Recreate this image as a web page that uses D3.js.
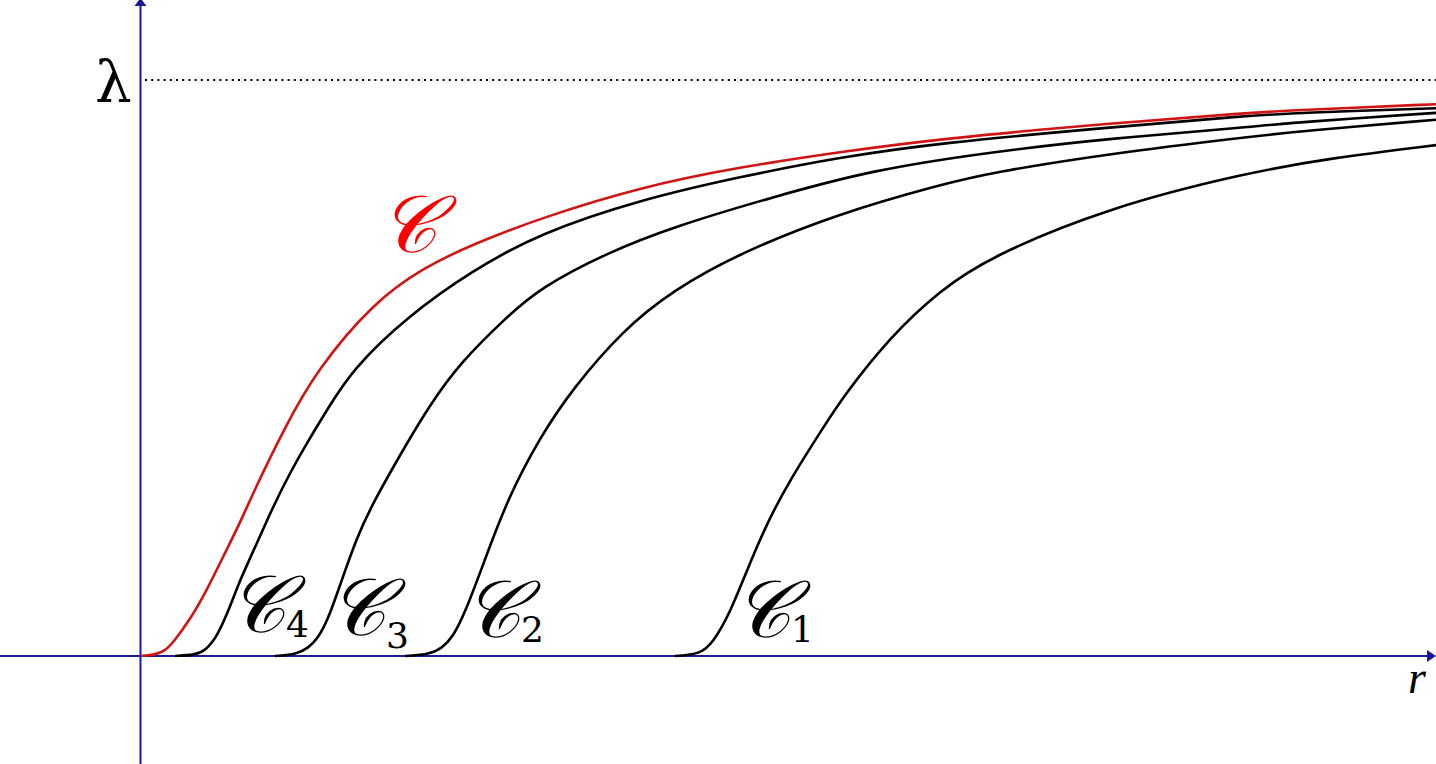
<!DOCTYPE html>
<html><head><meta charset="utf-8">
<script src="https://cdn.jsdelivr.net/npm/d3@7"></script>
<style>body{margin:0;background:#fff}svg{display:block}</style>
</head><body>
<svg id="chart" width="1436" height="764"></svg>
<script>
// r values (abscissa) and normalised values (lambda = 1) for each curve
const rRed = [0, 0.14, 0.24, 0.32, 0.49, 0.66, 0.82, 0.99, 1.12, 1.44, 1.76, 2.32, 2.82, 3.32, 3.99, 4.99, 5.99, 6.99, 7.99, 9.72, 11.06, 11.59, 12.95];
const vRed = [0, 0.002, 0.009, 0.023, 0.063, 0.115, 0.172, 0.231, 0.283, 0.398, 0.497, 0.613, 0.674, 0.715, 0.760, 0.814, 0.849, 0.875, 0.898, 0.925, 0.943, 0.948, 0.958];

const rC4 = [0.34, 0.54, 0.64, 0.76, 0.89, 0.99, 1.16, 1.32, 1.49, 1.66, 1.86, 2.11, 2.66, 3.32, 3.99, 4.99, 5.99, 6.99, 7.99, 9.72, 11.06, 11.59, 12.95];
const vC4 = [0, 0.002, 0.009, 0.033, 0.085, 0.132, 0.196, 0.259, 0.318, 0.370, 0.427, 0.497, 0.589, 0.670, 0.734, 0.792, 0.832, 0.866, 0.891, 0.918, 0.938, 0.943, 0.951];

const rC3 = [1.34, 1.56, 1.67, 1.76, 1.87, 1.99, 2.16, 2.32, 2.66, 2.89, 3.19, 3.66, 3.99, 4.66, 5.32, 6.32, 7.32, 8.49, 9.72, 11.06, 11.59, 12.95];
const vC3 = [0, 0.003, 0.014, 0.028, 0.063, 0.123, 0.207, 0.266, 0.370, 0.436, 0.509, 0.589, 0.639, 0.700, 0.745, 0.797, 0.844, 0.875, 0.899, 0.918, 0.927, 0.943];

const rC2 = [2.64, 2.89, 3.01, 3.12, 3.24, 3.42, 3.66, 3.99, 4.32, 4.82, 5.32, 5.99, 6.99, 7.99, 8.49, 9.72, 11.06, 11.59, 12.95];
const vC2 = [0, 0.003, 0.014, 0.033, 0.075, 0.158, 0.271, 0.380, 0.465, 0.566, 0.635, 0.700, 0.769, 0.818, 0.839, 0.873, 0.901, 0.911, 0.931];

const rC1 = [5.34, 5.59, 5.72, 5.89, 6.06, 6.26, 6.49, 6.82, 7.02, 7.49, 7.99, 8.49, 9.66, 11.06, 11.92, 12.95];
const vC1 = [0, 0.003, 0.023, 0.075, 0.149, 0.231, 0.306, 0.396, 0.450, 0.554, 0.635, 0.693, 0.778, 0.839, 0.865, 0.887];

const seriesNames = ["𝒞", "𝒞", "𝒞", "𝒞", "𝒞"];
const seriesSubs = ["", "4", "3", "2", "1"];
const lambdaLabel = "λ";
const axisLabel = "r";

const W = 1436, H = 764;
const svg = d3.select("#chart");

const x = d3.scaleLinear().domain([0, 12.95]).range([141, 1436]);
const y = d3.scaleLinear().domain([0, 1]).range([656, 80]);

const axisColor = "#1a1a9a";

// dotted asymptote at lambda
svg.append("line")
  .attr("x1", x(0) + 4).attr("x2", W)
  .attr("y1", y(1)).attr("y2", y(1))
  .attr("stroke", "#000").attr("stroke-width", 2)
  .attr("stroke-dasharray", "2,4.2");

// axes
svg.append("line").attr("x1", 0).attr("x2", W - 4)
  .attr("y1", y(0)).attr("y2", y(0))
  .attr("stroke", axisColor).attr("stroke-width", 2);
svg.append("line").attr("x1", x(0) - 0.5).attr("x2", x(0) - 0.5)
  .attr("y1", H).attr("y2", 4)
  .attr("stroke", axisColor).attr("stroke-width", 2);
// arrow heads
svg.append("path")
  .attr("d", `M${W},${y(0)} L${W - 9},${y(0) - 6} L${W - 9},${y(0) + 6} Z`)
  .attr("fill", axisColor);
svg.append("path")
  .attr("d", `M${x(0) - 0.5},-2 L${x(0) - 6.5},${6} L${x(0) + 5.5},${6} Z`)
  .attr("fill", axisColor);

const line = d3.line().x(d => x(d[0])).y(d => y(d[1])).curve(d3.curveBasis);
const series = [
  {r: rC1, v: vC1, color: "#000"},
  {r: rC2, v: vC2, color: "#000"},
  {r: rC3, v: vC3, color: "#000"},
  {r: rC4, v: vC4, color: "#000"},
  {r: rRed, v: vRed, color: "#d01515"}
];
series.forEach(s => {
  svg.append("path")
    .datum(s.r.map((r, i) => [r, s.v[i]]))
    .attr("d", line)
    .attr("fill", "none")
    .attr("stroke", s.color)
    .attr("stroke-width", 2.6)
    .attr("stroke-linejoin", "round");
});

// labels (anchors in data units)
const labelAnchors = [
  {i: 0, r: 2.38, v: 0.701, color: "#ff0000", dy: 0},
  {i: 1, r: 0.87, v: 0.042, color: "#000", dy: 5},
  {i: 2, r: 1.87, v: 0.036, color: "#000", dy: 13},
  {i: 3, r: 3.22, v: 0.033, color: "#000", dy: 5},
  {i: 4, r: 5.92, v: 0.033, color: "#000", dy: 5}
];
labelAnchors.forEach(a => {
  const t = svg.append("text")
    .attr("x", x(a.r)).attr("y", y(a.v))
    .attr("fill", a.color)
    .style("font-family", "'DejaVu Serif', 'DejaVu Sans', serif")
    .style("font-size", "80px")
    .style("font-style", "italic");
  t.append("tspan").text(seriesNames[a.i]);
  if (seriesSubs[a.i]) {
    t.append("tspan").text(seriesSubs[a.i])
      .attr("dy", a.dy).attr("dx", 0)
      .style("font-style", "normal")
      .style("font-size", "36px");
  }
});

svg.append("text").text(lambdaLabel)
  .attr("x", 95).attr("y", 102)
  .style("font-family", "'DejaVu Serif', serif")
  .style("font-size", "58px");

svg.append("text").text(axisLabel)
  .attr("x", 1408).attr("y", 693)
  .style("font-family", "'Liberation Serif', serif")
  .style("font-style", "italic")
  .style("font-size", "46px");
</script>
</body></html>
